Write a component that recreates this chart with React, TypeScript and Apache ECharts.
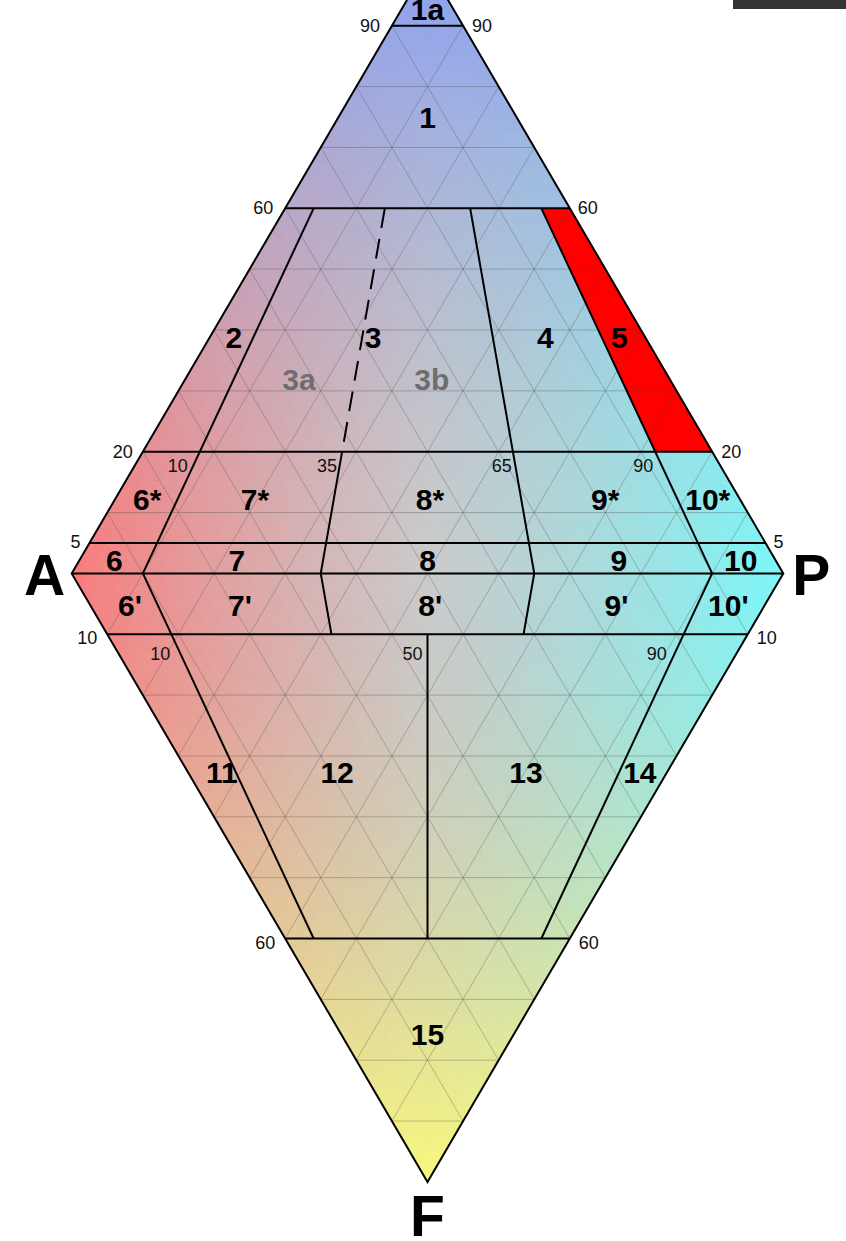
import React, { useEffect, useRef } from "react";
import * as echarts from "echarts";

// ---------------- DATA ----------------
// Horizontal field boundaries (percent of Q in the upper triangle, F in the lower one)
const Q_BOUNDS = [90, 60, 20, 5, 0];
const F_BOUNDS = [10, 60];
// Ratio boundaries 100*P/(A+P): [ratio, Q from, Q to, dashed]
const UPPER_RATIO_LINES = [
  [10, 60, 0, 0],
  [35, 60, 20, 1],
  [35, 20, 0, 0],
  [65, 60, 0, 0],
  [90, 60, 0, 0],
];
// [ratio, F from, F to]
const LOWER_RATIO_LINES = [
  [10, 0, 60],
  [35, 0, 10],
  [50, 10, 60],
  [65, 0, 10],
  [90, 0, 60],
];
// Field 5 (highlighted): [Q, ratio]
const FIELD5 = [
  [60, 90],
  [60, 100],
  [20, 100],
  [20, 90],
];
const GRID_STEPS = [10, 20, 30, 40, 50, 60, 70, 80, 90];
const EDGE_TICKS_Q = [90, 60, 20, 5];
const EDGE_TICKS_F = [10, 60];
const RATIO_TICKS_Q20 = [10, 35, 65, 90];
const RATIO_TICKS_F10 = [10, 50, 90];
// Field labels: [text, Q (positive, upper) or -F (negative, lower), ratio, grey]
const FIELD_LABELS: [string, number, number, number][] = [
  ["1a", 92.6, 50, 0],
  ["1", 75, 50, 0],
  ["2", 38.7, 5.6, 0],
  ["3", 38.7, 37.5, 0],
  ["4", 38.7, 77, 0],
  ["5", 38.7, 94, 0],
  ["3a", 31.8, 23.5, 1],
  ["3b", 31.8, 50.9, 1],
  ["6*", 12.1, 5.2, 0],
  ["7*", 12.1, 22.4, 0],
  ["8*", 12.1, 50.4, 0],
  ["9*", 12.1, 78.4, 0],
  ["10*", 12.1, 94.8, 0],
  ["6", 2.2, 5, 0],
  ["7", 2.2, 22.6, 0],
  ["8", 2.2, 50, 0],
  ["9", 2.2, 77.5, 0],
  ["10", 2.2, 95, 0],
  ["6'", -5.2, 5.9, 0],
  ["7'", -5.2, 22.2, 0],
  ["8'", -5.2, 50.4, 0],
  ["9'", -5.2, 78, 0],
  ["10'", -5.2, 94.6, 0],
  ["11", -32.8, 7, 0],
  ["12", -32.8, 31.1, 0],
  ["13", -32.8, 70.6, 0],
  ["14", -32.8, 94.4, 0],
  ["15", -75.8, 50, 0],
];
const APEX_LABELS = ["A", "P", "F"];

// ---------------- LAYOUT / STYLE ----------------
const PAGE_W = 846;
const PAGE_H = 1241;
const LEFT_TIP = 71.7;
const RIGHT_TIP = 783.3;
const BASE_Y = 573.4;
const HALF_H = 608.5;

const QC = [138, 160, 242];
const AC = [248, 124, 124];
const PC = [124, 246, 248];
const FC = [248, 248, 124];

const FONT = '"Liberation Sans", Arial, Helvetica, sans-serif';

// ternary -> cartesian (x in [-1,1], y = Q fraction up, -F fraction down)
const up = (q: number, r: number) => [(1 - q / 100) * ((2 * r) / 100 - 1), q / 100];
const lo = (f: number, r: number) => [(1 - f / 100) * ((2 * r) / 100 - 1), -f / 100];

function colorAt(x: number, y: number) {
  const t = Math.max(0, Math.min(1, (x + 1) / 2));
  const base = [0, 1, 2].map((k) => AC[k] + (PC[k] - AC[k]) * t);
  const V = y >= 0 ? QC : FC;
  const al = Math.pow(Math.min(1, Math.abs(y)), y >= 0 ? 1.7 : 1.7);
  const c = base.map((b, k) => b + (V[k] - b) * al);
  const light = 0.25 * (1 - Math.abs(y)) * (1 - Math.abs(x));
  const rgb = c.map((v) => Math.round(v + (255 - v) * light));
  return `rgb(${rgb[0]},${rgb[1]},${rgb[2]})`;
}

function buildOption() {
  // shading triangles
  const N = 40;
  const tris: number[][] = [];
  for (const s of [1, -1]) {
    const pt = (i: number, j: number) => [-(1 - i / N) + (2 * j) / N, (s * i) / N];
    for (let i = 0; i < N; i++) {
      for (let j = 0; j < N - i; j++) {
        const a = pt(i, j),
          b = pt(i, j + 1),
          c = pt(i + 1, j);
        tris.push([...a, ...b, ...c]);
        if (j < N - i - 1) {
          const d = pt(i + 1, j + 1);
          tris.push([...b, ...d, ...c]);
        }
      }
    }
  }

  // grid lines
  const gridLines: number[][] = [];
  for (const k of GRID_STEPS) {
    const t = k / 100;
    for (const s of [1, -1]) {
      gridLines.push([-(1 - t), s * t, 1 - t, s * t]);
      gridLines.push([-t, s * (1 - t), 1 - 2 * t, 0]);
      gridLines.push([t, s * (1 - t), 2 * t - 1, 0]);
    }
  }

  // boundaries
  const bounds: number[][] = [];
  for (const q of Q_BOUNDS) bounds.push([...up(q, 0), ...up(q, 100), 0]);
  for (const f of F_BOUNDS) bounds.push([...lo(f, 0), ...lo(f, 100), 0]);
  for (const [r, q1, q2, d] of UPPER_RATIO_LINES) bounds.push([...up(q1, r), ...up(q2, r), d]);
  for (const [r, f1, f2] of LOWER_RATIO_LINES) bounds.push([...lo(f1, r), ...lo(f2, r), 0]);

  const outline = [up(0, 0), up(100, 50), up(0, 100), lo(100, 50)];

  // labels
  type Lab = { x: number; y: number; text: string; dx: number; dy: number; align: string; font: string; color: string };
  const labels: Lab[] = [];
  const tickFont = `18px ${FONT}`;
  const tickColor = "#111";
  const edgeDx: Record<number, number[]> = { 90: [-12, 9], 60: [-12, 8], 20: [-10, 9], 5: [-9, 8] };
  for (const q of EDGE_TICKS_Q) {
    const L = up(q, 0),
      R = up(q, 100);
    const dy = q === 5 ? -1 : 0;
    labels.push({ x: L[0], y: L[1], text: String(q), dx: edgeDx[q][0], dy, align: "right", font: tickFont, color: tickColor });
    labels.push({ x: R[0], y: R[1], text: String(q), dx: edgeDx[q][1], dy, align: "left", font: tickFont, color: tickColor });
  }
  for (const f of EDGE_TICKS_F) {
    const L = lo(f, 0),
      R = lo(f, 100);
    labels.push({ x: L[0], y: L[1], text: String(f), dx: -10, dy: 4, align: "right", font: tickFont, color: tickColor });
    labels.push({ x: R[0], y: R[1], text: String(f), dx: 9, dy: 4, align: "left", font: tickFont, color: tickColor });
  }
  const q20dx = [-12, -5, -1, -2];
  RATIO_TICKS_Q20.forEach((r, i) => {
    const P = up(20, r);
    labels.push({ x: P[0], y: P[1], text: String(r), dx: q20dx[i], dy: 14, align: "right", font: tickFont, color: tickColor });
  });
  const f10dx = [-1, -5, -17];
  RATIO_TICKS_F10.forEach((r, i) => {
    const P = lo(10, r);
    labels.push({ x: P[0], y: P[1], text: String(r), dx: f10dx[i], dy: 20, align: "right", font: tickFont, color: tickColor });
  });
  for (const [text, v, r, grey] of FIELD_LABELS) {
    const P = v >= 0 ? up(v, r) : lo(-v, r);
    labels.push({
      x: P[0],
      y: P[1],
      text,
      dx: 0,
      dy: 0,
      align: "center",
      font: `bold 30px ${FONT}`,
      color: grey ? "#6e6e6e" : "#000",
    });
  }
  const apexPts = [up(0, 0), up(0, 100), lo(100, 50)];
  const apexOff = [
    [-27, 2],
    [28, 2],
    [0, 34],
  ];
  APEX_LABELS.forEach((t, i) => {
    labels.push({
      x: apexPts[i][0],
      y: apexPts[i][1],
      text: t,
      dx: apexOff[i][0],
      dy: apexOff[i][1],
      align: "center",
      font: `bold 57px ${FONT}`,
      color: "#000",
    });
  });

  return {
    animation: false,
    grid: { left: LEFT_TIP, width: RIGHT_TIP - LEFT_TIP, top: 0, height: PAGE_H },
    xAxis: { type: "value", min: -1, max: 1, show: false },
    yAxis: { type: "value", min: -(PAGE_H - BASE_Y) / HALF_H, max: BASE_Y / HALF_H, show: false },
    graphic: [
      { type: "rect", shape: { x: 733, y: 0, width: 113, height: 9 }, style: { fill: "#333" }, silent: true },
    ],
    series: [
      {
        type: "custom",
        name: "shading",
        progressive: 0,
        silent: true,
        data: tris,
        renderItem: (params: any, api: any) => {
          const v = [0, 1, 2, 3, 4, 5].map((k) => api.value(k));
          const pts = [0, 2, 4].map((k) => api.coord([v[k], v[k + 1]]));
          const col = colorAt((v[0] + v[2] + v[4]) / 3, (v[1] + v[3] + v[5]) / 3);
          return { type: "polygon", shape: { points: pts }, style: { fill: col, stroke: col, lineWidth: 0.8 } };
        },
      },
      {
        type: "custom",
        name: "field5",
        silent: true,
        data: [[0, 0]],
        renderItem: (params: any, api: any) => {
          const pts = FIELD5.map(([q, r]) => api.coord(up(q, r)));
          return { type: "polygon", shape: { points: pts }, style: { fill: "#ff0000" } };
        },
      },
      {
        type: "custom",
        name: "grid",
        progressive: 0,
        silent: true,
        data: gridLines,
        renderItem: (params: any, api: any) => {
          const a = api.coord([api.value(0), api.value(1)]);
          const b = api.coord([api.value(2), api.value(3)]);
          return {
            type: "line",
            shape: { x1: a[0], y1: a[1], x2: b[0], y2: b[1] },
            style: { stroke: "rgba(70,70,70,0.4)", lineWidth: 0.8 },
          };
        },
      },
      {
        type: "custom",
        name: "bounds",
        progressive: 0,
        silent: true,
        data: bounds,
        renderItem: (params: any, api: any) => {
          const a = api.coord([api.value(0), api.value(1)]);
          const b = api.coord([api.value(2), api.value(3)]);
          const dashed = api.value(4) === 1;
          return {
            type: "line",
            shape: { x1: a[0], y1: a[1], x2: b[0], y2: b[1] },
            style: { stroke: "#000", lineWidth: 2, lineDash: dashed ? [20, 11] : null },
          };
        },
      },
      {
        type: "custom",
        name: "outline",
        silent: true,
        data: [[0, 0]],
        renderItem: (params: any, api: any) => {
          const pts = outline.map((p) => api.coord(p));
          return {
            type: "polygon",
            shape: { points: pts },
            style: { fill: "none", stroke: "#000", lineWidth: 2, lineJoin: "miter" },
          };
        },
      },
      {
        type: "custom",
        name: "labels",
        progressive: 0,
        silent: true,
        data: labels.map((l, i) => [l.x, l.y, i]),
        renderItem: (params: any, api: any) => {
          const L = labels[params.dataIndex];
          const p = api.coord([api.value(0), api.value(1)]);
          return {
            type: "text",
            x: p[0] + L.dx,
            y: p[1] + L.dy,
            style: { text: L.text, fill: L.color, font: L.font, align: L.align, verticalAlign: "middle" },
          };
        },
      },
    ],
  };
}

export default function App() {
  const ref = useRef<HTMLDivElement>(null);
  useEffect(() => {
    const chart = echarts.init(ref.current!, null, { renderer: "svg" });
    chart.setOption(buildOption() as any);
    return () => chart.dispose();
  }, []);
  return (
    <div
      ref={ref}
      style={{ position: "absolute", left: 0, top: 0, width: PAGE_W, height: PAGE_H, background: "#fff" }}
    />
  );
}
